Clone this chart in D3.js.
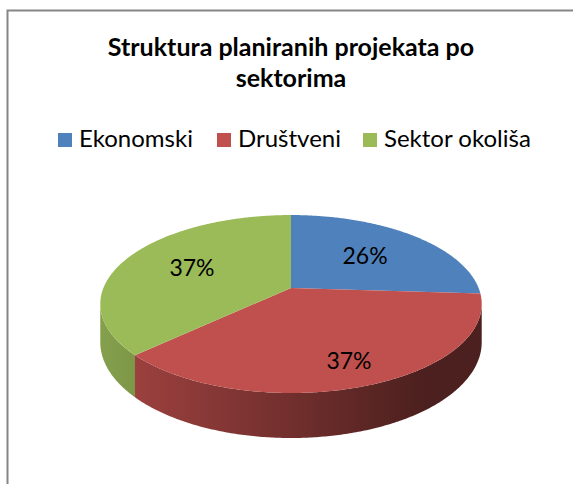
<!DOCTYPE html>
<html>
<head>
<meta charset="utf-8">
<script src="https://cdn.jsdelivr.net/npm/d3@7/dist/d3.min.js"></script>
<style>
  html, body { margin: 0; padding: 0; background: #fff; }
  svg { display: block; }
  text { font-family: Lato, "Open Sans", sans-serif; }
</style>
</head>
<body>
<svg id="chart" width="573" height="484"></svg>
<script>
// ---- data ----
const categories = ["Ekonomski", "Društveni", "Sektor okoliša"];
const values = [26, 37, 37];
const labels = ["26%", "37%", "37%"];
const colors = ["#4F81BD", "#C0504D", "#9BBB59"];
const titleLines = ["Struktura planiranih projekata po", "sektorima"];

// ---- layout ----
const W = 573, H = 484;
const cx = 291, cy = 288;     // pie centre on screen
const R = 187.6;              // horizontal radius
const K = 86.1;               // vertical (tilted) radius
const P = 0.18;               // perspective factor
const depth = 36.9;           // thickness
const labelFrac = [0.58, 0.79, 0.6];

const svg = d3.select("#chart");

// frame
svg.append("rect")
  .attr("x", 7.5).attr("y", 10.5)
  .attr("width", W + 20).attr("height", H + 20)
  .attr("fill", "#fff").attr("stroke", "#868686").attr("stroke-width", 2);

// title
svg.append("g").selectAll("text").data(titleLines).join("text")
  .attr("x", 291).attr("y", (d, i) => 56 + i * 31)
  .attr("text-anchor", "middle")
  .attr("font-weight", "bold").attr("font-size", 25)
  .attr("fill", "#000")
  .text(d => d);

// legend
const legendX = [58, 217, 363];
const lg = svg.append("g").selectAll("g").data(categories).join("g")
  .attr("transform", (d, i) => `translate(${legendX[i]},133)`);
lg.append("rect").attr("width", 14).attr("height", 14).attr("fill", (d, i) => colors[i]);
lg.append("text").attr("x", 21).attr("y", 14).attr("font-size", 24).attr("fill", "#000").text(d => d);

// ---- 3D pie ----
const pie = d3.pie().sort(null).value(d => d);
const arcs = pie(values);

function proj(theta, frac, dz) {
  const u = Math.sin(theta) * frac, v = -Math.cos(theta) * frac;
  const s = 1 / (1 - P * v);
  return [cx + R * u * s, cy + K * v * s + dz * s];
}
function arcPts(a0, a1, frac, dz) {
  const n = Math.max(2, Math.ceil(Math.abs(a1 - a0) / 0.01));
  const pts = [];
  for (let i = 0; i <= n; i++) pts.push(proj(a0 + (a1 - a0) * i / n, frac, dz));
  return pts;
}
const line = d3.line();

const defs = svg.append("defs");
colors.forEach((c, i) => {
  const g = defs.append("linearGradient").attr("id", "side" + i)
    .attr("gradientUnits", "userSpaceOnUse")
    .attr("x1", cx - R).attr("x2", cx + R).attr("y1", 0).attr("y2", 0);
  const base = d3.rgb(c);
  [[0, 0.45], [0.5, 1.48], [0.85, 2.6], [1, 2.6]].forEach(([o, k]) =>
    g.append("stop").attr("offset", o).attr("stop-color", base.darker(k).formatHex()));
});

// visible range of the outer wall
const vis0 = Math.acos(-P), vis1 = 2 * Math.PI - Math.acos(-P);
const sides = svg.append("g");
arcs.forEach((a, i) => {
  const a0 = Math.max(a.startAngle, vis0), a1 = Math.min(a.endAngle, vis1);
  if (a1 <= a0) return;
  const top = arcPts(a0, a1, 1, 0);
  const bot = arcPts(a1, a0, 1, depth);
  sides.append("path").attr("d", line(top.concat(bot)) + "Z")
    .attr("fill", `url(#side${i})`);
});

const tops = svg.append("g");
arcs.forEach((a, i) => {
  const pts = [proj(0, 0, 0)].concat(arcPts(a.startAngle, a.endAngle, 1, 0));
  tops.append("path").attr("d", line(pts) + "Z").attr("fill", colors[i]);
});

// labels
svg.append("g").selectAll("text").data(arcs).join("text")
  .attr("transform", (a, i) => {
    const p = proj((a.startAngle + a.endAngle) / 2, labelFrac[i], 0);
    return `translate(${p[0]},${p[1]})`;
  })
  .attr("text-anchor", "middle").attr("dy", "0.33em")
  .attr("font-size", 23).attr("fill", "#000")
  .text((a, i) => labels[i]);
</script>
</body>
</html>
